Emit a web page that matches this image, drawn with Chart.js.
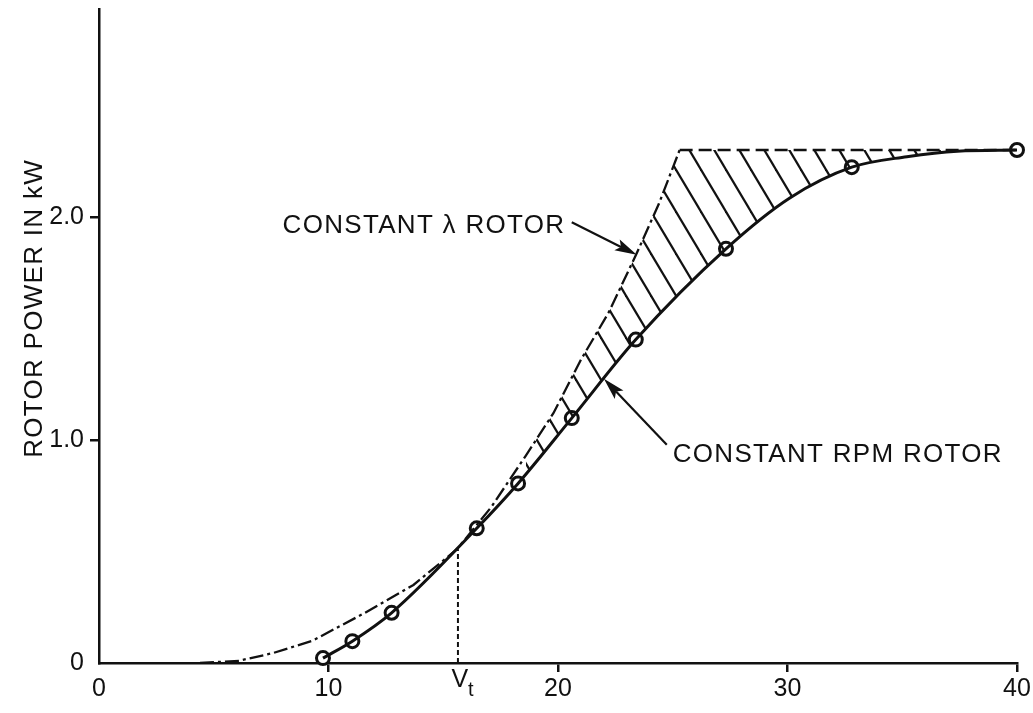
<!DOCTYPE html>
<html lang="en">
<head>
  <meta charset="UTF-8" />
  <title>Rotor power vs wind speed</title>
  <style>
    html, body { margin: 0; padding: 0; background: #fff; }
    #wrap { width: 1033px; height: 713px; }
  </style>
</head>
<body>
  <div id="wrap"><canvas id="powerChart" width="1033" height="713"></canvas></div>

  <script src="https://cdn.jsdelivr.net/npm/chart.js"></script>
  <script>
    // wind speed (x) and rotor power in kW (y)
    const xTicks = [0, 10, 20, 30, 40];
    const yTicks = [0, 1, 2];

    // constant RPM rotor: test points (circles) plus a few curve points between them
    const testV = [9.76, 11.04, 12.75, 16.46, 18.26, 20.6, 23.39, 27.32, 32.8, 40];
    const testP = [0.022, 0.098, 0.225, 0.604, 0.805, 1.098, 1.45, 1.857, 2.223, 2.30];
    const rpmExtraV = [30.1, 35.2, 37.4];
    const rpmExtraP = [2.085, 2.27, 2.295];

    // constant lambda rotor (dash-dot rise, dashed flat top)
    const lambdaV = [4.4, 6.1, 7.6, 9.3, 11.5, 13.7, 15.6, 17.1, 18.6, 19.8, 21.0, 22.2, 23.4, 24.4, 25.3, 32, 40];
    const lambdaP = [0, 0.01, 0.045, 0.10, 0.22, 0.35, 0.51, 0.70, 0.93, 1.12, 1.36, 1.57, 1.83, 2.06, 2.30, 2.30, 2.30];
    const lambdaTopV = 25.3;   // where the curve turns flat
    const hatchFromV = 18.6;   // hatching between the curves starts here

    const vt = 15.64;
    const vtTop = 0.51;

    const ink = '#111';
    const font = "'Liberation Sans', Arial, sans-serif";

    const rpmCurve = testV.map((v, i) => ({ x: v, y: testP[i] }))
      .concat(rpmExtraV.map((v, i) => ({ x: v, y: rpmExtraP[i] })))
      .sort((a, b) => a.x - b.x);
    const lambdaLine = lambdaV.map((v, i) => ({ x: v, y: lambdaP[i] }));
    const hatchTop = lambdaLine.filter(p => p.x >= hatchFromV);
    const circles = testV.map((v, i) => ({ x: v, y: testP[i] }));

    // diagonal hatch pattern for the area between the two curves
    function hatchPattern() {
      const w = 25, h = 42;
      const c = document.createElement('canvas');
      c.width = w; c.height = h;
      const g = c.getContext('2d');
      g.strokeStyle = ink;
      g.lineWidth = 2.2;
      for (const off of [-w, 0, w]) {
        g.beginPath();
        g.moveTo(off - w * 0.2, -h * 0.2);
        g.lineTo(off + w * 1.2, h * 1.2);
        g.stroke();
      }
      return g.createPattern(c, 'repeat');
    }

    function arrow(ctx, x1, y1, x2, y2) {
      const a = Math.atan2(y2 - y1, x2 - x1);
      const len = 22, half = 6;
      ctx.lineWidth = 2.2;
      ctx.beginPath();
      ctx.moveTo(x1, y1);
      ctx.lineTo(x2 - len * Math.cos(a) * 0.8, y2 - len * Math.sin(a) * 0.8);
      ctx.stroke();
      ctx.beginPath();
      ctx.moveTo(x2, y2);
      ctx.lineTo(x2 - len * Math.cos(a) + half * Math.sin(a), y2 - len * Math.sin(a) - half * Math.cos(a));
      ctx.lineTo(x2 - len * 0.8 * Math.cos(a), y2 - len * 0.8 * Math.sin(a));
      ctx.lineTo(x2 - len * Math.cos(a) - half * Math.sin(a), y2 - len * Math.sin(a) + half * Math.cos(a));
      ctx.closePath();
      ctx.fill();
    }

    const notes = {
      id: 'notes',
      afterDraw(chart) {
        const { ctx, scales: { x, y } } = chart;
        ctx.save();
        ctx.fillStyle = ink;
        ctx.strokeStyle = ink;
        ctx.letterSpacing = '1.3px';
        ctx.font = '26px ' + font;
        ctx.textBaseline = 'alphabetic';
        ctx.textAlign = 'left';
        ctx.fillText('CONSTANT λ ROTOR', x.getPixelForValue(8.0), y.getPixelForValue(1.93));
        ctx.fillText('CONSTANT RPM ROTOR', x.getPixelForValue(25.0), y.getPixelForValue(0.9));
        arrow(ctx, x.getPixelForValue(20.6), y.getPixelForValue(1.976), x.getPixelForValue(23.43), y.getPixelForValue(1.83));
        arrow(ctx, x.getPixelForValue(24.74), y.getPixelForValue(0.979), x.getPixelForValue(22.0), y.getPixelForValue(1.274));

        // V_t under the axis
        const vx = x.getPixelForValue(vt);
        ctx.letterSpacing = '0px';
        ctx.font = '25px ' + font;
        ctx.textAlign = 'center';
        ctx.fillText('V', vx + 2, 687);
        ctx.font = '20px ' + font;
        ctx.textAlign = 'left';
        ctx.fillText('t', vx + 10, 696);

        // y axis title
        ctx.letterSpacing = '1.3px';
        ctx.font = '26px ' + font;
        ctx.translate(35, y.getPixelForValue(1.59));
        ctx.rotate(-Math.PI / 2);
        ctx.textAlign = 'center';
        ctx.textBaseline = 'middle';
        ctx.fillText('ROTOR POWER IN kW', 0, 0);
        ctx.restore();
      }
    };

    Chart.defaults.font.family = font;
    Chart.defaults.color = ink;

    new Chart(document.getElementById('powerChart'), {
      type: 'line',
      data: {
        datasets: [
          { label: 'Constant RPM rotor', data: rpmCurve, borderColor: ink, borderWidth: 3,
            pointRadius: 0, cubicInterpolationMode: 'monotone', fill: false },
          { label: 'Constant λ rotor', data: lambdaLine, borderColor: ink, borderWidth: 2.3,
            borderDash: [14, 4, 3, 4], pointRadius: 0, tension: 0, fill: false,
            segment: { borderDash: c => c.p0.parsed.x >= lambdaTopV ? [13, 6] : undefined } },
          { label: 'hatch', data: hatchTop, borderWidth: 0, borderColor: 'transparent',
            pointRadius: 0, tension: 0, fill: { target: 0 }, backgroundColor: hatchPattern() },
          { label: 'Test points', data: circles, showLine: false, pointRadius: 6.5,
            pointBorderWidth: 3, pointBorderColor: ink, pointBackgroundColor: '#fff', clip: false },
          { label: 'Vt', data: [{ x: vt, y: 0 }, { x: vt, y: vtTop }], borderColor: ink,
            borderWidth: 2, borderDash: [5, 3], pointRadius: 0, fill: false }
        ]
      },
      options: {
        responsive: false,
        animation: false,
        layout: { padding: { top: 5, right: 16, left: 0, bottom: 0 } },
        plugins: { legend: { display: false }, tooltip: { enabled: false } },
        scales: {
          x: {
            type: 'linear', min: 0, max: 40,
            afterBuildTicks: s => { s.ticks = xTicks.map(v => ({ value: v })); },
            afterFit: s => { s.height = 50; s.paddingLeft = 0; s.paddingRight = 0; },
            border: { display: true, color: ink, width: 2.5 },
            grid: { drawOnChartArea: false, drawTicks: true, tickLength: 9, lineWidth: 2.5,
              color: c => c.tick && c.tick.value === 0 ? 'rgba(0,0,0,0)' : ink },
            ticks: { font: { size: 25 }, padding: 2, maxRotation: 0, color: ink,
              callback: v => String(v) }
          },
          y: {
            type: 'linear', min: 0, max: 2.93,
            afterBuildTicks: s => { s.ticks = yTicks.map(v => ({ value: v })); },
            afterFit: s => { s.width = 99; s.paddingTop = 0; s.paddingBottom = 0; },
            border: { display: true, color: ink, width: 2.5 },
            grid: { drawOnChartArea: false, drawTicks: true, tickLength: 9, lineWidth: 2.5,
              color: c => c.tick && c.tick.value === 0 ? 'rgba(0,0,0,0)' : ink },
            ticks: { font: { size: 25 }, padding: 6, color: ink,
              callback: v => v === 0 ? '0' : v.toFixed(1) }
          }
        }
      },
      plugins: [notes]
    });
  </script>
</body>
</html>
